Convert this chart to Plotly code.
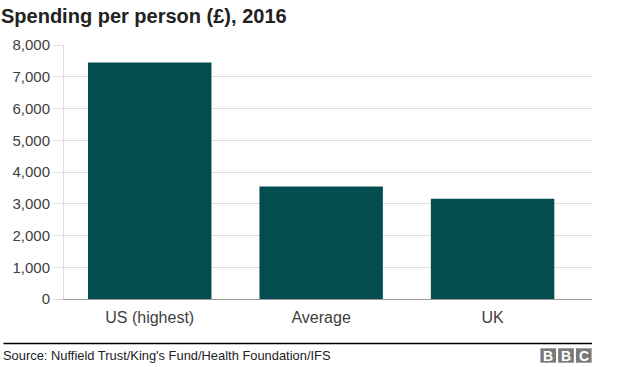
import plotly.graph_objects as go

categories = ["US (highest)", "Average", "UK"]
values = [7450, 3540, 3160]
y_ticks = [0, 1000, 2000, 3000, 4000, 5000, 6000, 7000, 8000]
y_tick_labels = ["0", "1,000", "2,000", "3,000", "4,000", "5,000", "6,000", "7,000", "8,000"]

W, H = 624, 367
L, R, T, B = 60, 32, 45, 68
PW, PH = W - L - R, H - T - B

def px(x):
    return (x - L) / PW

def py(y):
    return (H - B - y) / PH

fig = go.Figure(go.Bar(
    x=categories, y=values, width=0.72,
    marker=dict(color="#024d4f", line=dict(width=0)),
    hoverinfo="x+y",
))

font = "Liberation Sans, Arial, Helvetica, sans-serif"

fig.update_layout(
    width=W, height=H,
    margin=dict(l=L, r=R, t=T, b=B),
    paper_bgcolor="white", plot_bgcolor="white",
    font=dict(family=font, color="#404040", size=14),
    showlegend=False,
    title=dict(text="<b>Spending per person (£), 2016</b>", x=1 / W, xref="container",
               xanchor="left", y=1 - 16 / H, yref="container", yanchor="middle",
               font=dict(size=20, color="#222222", family=font)),
    xaxis=dict(range=[-0.5, 2.58], showgrid=False, showline=True, linecolor="#999999",
               linewidth=1, ticks="outside", ticklen=4, tickcolor="rgba(0,0,0,0)",
               tickfont=dict(size=16, color="#404040"), fixedrange=True),
    yaxis=dict(range=[0, 8000], tickvals=y_ticks, ticktext=y_tick_labels,
               showgrid=True, gridcolor="#dddddd", gridwidth=1,
               showline=True, linecolor="#dddddd", linewidth=1,
               ticks="outside", ticklen=10, tickcolor="#dddddd",
               tickfont=dict(size=15, color="#404040"), zeroline=False, fixedrange=True),
)

shapes = [dict(type="line", xref="paper", yref="paper", x0=px(-1), x1=px(592),
               y0=py(343.5), y1=py(343.5), line=dict(color="#000000", width=1.5))]
annotations = [dict(text="Source: Nuffield Trust/King's Fund/Health Foundation/IFS",
                    xref="paper", yref="paper", x=px(-2), y=py(355), xanchor="left",
                    yanchor="middle", showarrow=False, borderpad=0,
                    font=dict(size=12.9, color="#222222", family=font))]
for i, letter in enumerate("BBC"):
    x0 = 540 + i * 17.9
    shapes.append(dict(type="rect", xref="paper", yref="paper", x0=px(x0), x1=px(x0 + 15.8),
                       y0=py(362.7), y1=py(348.3), fillcolor="#7a7a7a", line=dict(width=0)))
    annotations.append(dict(text="<b>" + letter + "</b>", xref="paper", yref="paper",
                            x=px(x0 + 7.9), y=py(355.5), xanchor="center", yanchor="middle",
                            showarrow=False, borderpad=0,
                            font=dict(size=14, color="white", family=font)))
fig.update_layout(shapes=shapes, annotations=annotations)

fig.write_html("out.html", config={"displayModeBar": False},
               post_script="document.body.style.margin='0';document.body.style.overflow='hidden';")
